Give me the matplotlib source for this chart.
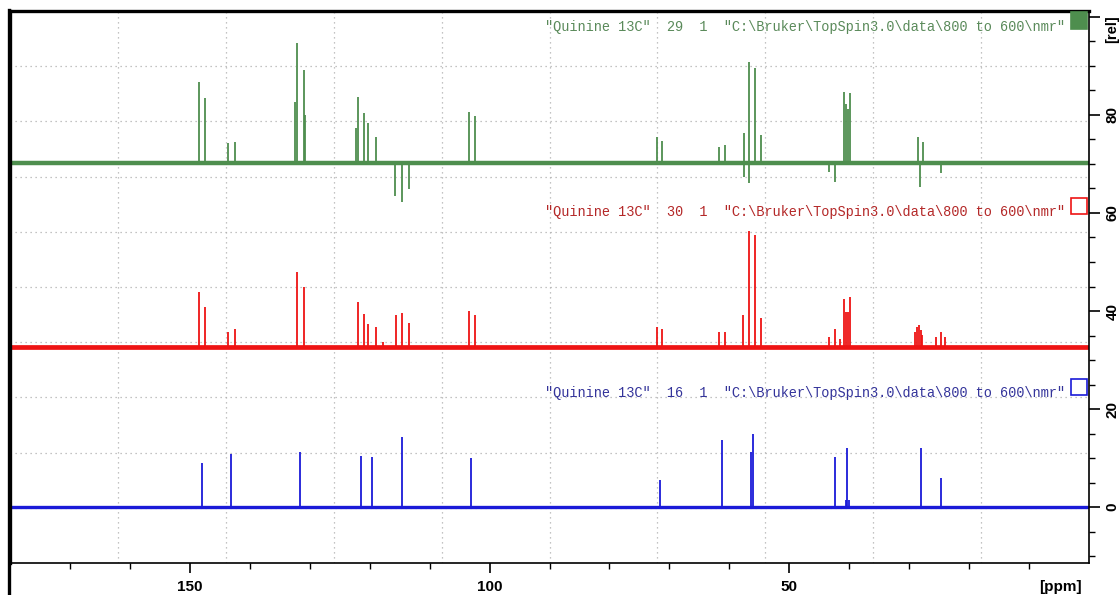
import numpy as np
import matplotlib
matplotlib.use("Agg")
import matplotlib.pyplot as plt
from matplotlib.patches import Rectangle
from matplotlib.lines import Line2D

# ---------------- data ----------------
ppm_limits = [180, 0]
rel_limits = [-11.4, 101.2]
x_major = [150, 100, 50]
x_major_labels = ["150", "100", "50"]
x_minor = list(range(10, 180, 10))
y_major = [0, 20, 40, 60, 80, 100]
y_major_labels = ["0", "20", "40", "60", "80", ""]
y_minor = list(range(-10, 101, 5))

spectrum_labels = [
    '"Quinine 13C"  29  1  "C:\\Bruker\\TopSpin3.0\\data\\800 to 600\\nmr"',
    '"Quinine 13C"  30  1  "C:\\Bruker\\TopSpin3.0\\data\\800 to 600\\nmr"',
    '"Quinine 13C"  16  1  "C:\\Bruker\\TopSpin3.0\\data\\800 to 600\\nmr"',
]
offsets = [70.2, 32.7, 0.0]
label_y = [98.0, 60.2, 23.3]

green_ppm = [148.5, 147.4, 143.6, 142.5, 132.4, 132.2, 131.0, 130.8, 122.3, 122.0,
             121.0, 120.2, 119.0, 115.7, 114.6, 113.5, 103.5, 102.5, 72.1, 71.2,
             61.7, 60.8, 57.5, 57.5, 56.7, 56.7, 55.7, 54.7, 43.3, 42.3,
             40.8, 40.5, 40.2, 39.9, 28.5, 28.2, 27.7, 24.7]
green_h = [16.5, 13.3, 4.1, 4.3, 12.5, 24.5, 19.0, 9.8, 7.1, 13.5,
           10.2, 8.2, 5.3, -6.7, -8.0, -5.3, 10.4, 9.6, 5.3, 4.5,
           3.3, 3.7, 6.1, -2.9, 20.6, -4.1, 19.4, 5.7, -1.8, -3.9,
           14.5, 12.0, 11.0, 14.3, 5.3, -4.9, 4.3, -2.0]

red_ppm = [148.5, 147.4, 143.6, 142.5, 132.2, 131.0, 122.0, 121.0, 120.2, 119.0,
           117.8, 115.6, 114.6, 113.5, 103.5, 102.5, 72.1, 71.2, 61.7, 60.8,
           57.7, 56.7, 55.7, 54.7, 43.3, 42.3, 41.5, 40.8, 40.5, 40.2,
           39.9, 29.0, 28.7, 28.4, 28.1, 27.8, 25.5, 24.7, 24.0]
red_h = [11.2, 8.2, 3.1, 3.7, 15.3, 12.2, 9.2, 6.7, 4.7, 4.1,
         1.0, 6.5, 6.9, 4.9, 7.3, 6.5, 4.1, 3.7, 3.1, 3.1,
         6.5, 23.7, 22.9, 5.9, 2.0, 3.7, 1.5, 9.8, 7.0, 7.0,
         10.2, 3.0, 4.0, 4.5, 3.5, 2.5, 2.0, 3.1, 2.0]

blue_ppm = [147.9, 143.1, 131.7, 121.4, 119.6, 114.6, 103.1, 71.6, 61.2, 56.4,
            56.1, 42.4, 40.6, 40.3, 40.0, 28.1, 24.7]
blue_h = [9.0, 10.8, 11.2, 10.4, 10.2, 14.3, 10.0, 5.5, 13.7, 11.2,
          14.9, 10.2, 1.5, 12.0, 1.5, 12.0, 5.9]

series_ppm = [green_ppm, red_ppm, blue_ppm]
series_h = [green_h, red_h, blue_h]
line_colors = ["#4e8e4e", "#ee1414", "#1a1ad8"]
text_colors = ["#5a8a5a", "#b42828", "#34349a"]
box_filled = [True, False, False]
baseline_lw = [3.2, 3.4, 2.4]

# ---------------- figure ----------------
W, H = 1120, 595
fig = plt.figure(figsize=(W / 100, H / 100), dpi=100)
ax = fig.add_axes([10 / W, 1 - 563 / H, 1079 / W, 552 / H])
ax.set_xlim(*ppm_limits)
ax.set_ylim(*rel_limits)

# grid: 10 equal divisions
grid_x = np.linspace(ppm_limits[0], ppm_limits[1], 11)[1:-1]
grid_y = np.linspace(rel_limits[0], rel_limits[1], 11)[1:-1]
for gx in grid_x:
    ax.axvline(gx, color="#b0b0b0", ls=(0, (1, 3)), lw=0.9, zorder=0)
for gy in grid_y:
    ax.axhline(gy, color="#b0b0b0", ls=(0, (1, 3)), lw=0.9, zorder=0)

# spectra
for ppm, h, off, c, lw in zip(series_ppm, series_h, offsets, line_colors, baseline_lw):
    ax.axhline(off, color=c, lw=lw, zorder=2)
    h = np.asarray(h)
    ax.vlines(ppm, off, off + h, color=c, lw=1.3, zorder=3)

# labels + boxes
for lab, ly, tc, lc, filled in zip(spectrum_labels, label_y, text_colors, line_colors, box_filled):
    ax.text(4.0, ly, lab, ha="right", va="center", color=tc,
            family="Liberation Mono", fontsize=9.8, zorder=4)
    ax.add_patch(Rectangle((3.0, ly - 0.5), -2.7, 3.4, facecolor=lc if filled else "none",
                           edgecolor=lc, lw=1.2, zorder=4))

# axes styling
ax.yaxis.tick_right()
ax.set_xticks(x_major)
ax.set_xticklabels(x_major_labels)
ax.set_xticks(x_minor, minor=True)
ax.set_yticks(y_major)
ax.set_yticklabels(y_major_labels)
ax.set_yticks(y_minor, minor=True)
ax.tick_params(axis="x", which="major", direction="out", length=7.5, width=1.2, pad=5,
               labelsize=11)
ax.tick_params(axis="x", which="minor", direction="out", length=4.5, width=1.0)
ax.tick_params(axis="y", which="major", direction="out", length=8, width=1.2, pad=4,
               labelsize=11, right=True, left=False)
ax.tick_params(axis="y", which="minor", direction="out", length=4.5, width=1.0,
               right=True, left=False)
for t in ax.get_xticklabels():
    t.set_fontweight("bold")
    t.set_family("Liberation Sans")
for t in ax.get_yticklabels():
    t.set_fontweight("bold")
    t.set_family("Liberation Sans")
    t.set_rotation(90)
    t.set_va("center")

for side in ["left", "top"]:
    ax.spines[side].set_linewidth(2.4)
for side in ["right", "bottom"]:
    ax.spines[side].set_linewidth(1.2)

ax.annotate("[rel]", xy=(1.0, 97.5), xycoords=("axes fraction", "data"),
            xytext=(16.5, 0), textcoords="offset points", rotation=90,
            ha="center", va="center", fontweight="bold", family="Liberation Sans",
            fontsize=10.5, annotation_clip=False)
ax.annotate("[ppm]", xy=(4.7, 0), xycoords=("data", "axes fraction"),
            xytext=(0, -17), textcoords="offset points",
            ha="center", va="center", fontweight="bold", family="Liberation Sans",
            fontsize=11, annotation_clip=False)

# window frame line on the left, running down to the bottom
fig.add_artist(Line2D([8.5 / W, 8.5 / W], [0, 1 - 10 / H], color="black", lw=2.4,
                      transform=fig.transFigure))

fig.savefig("out.png", dpi=100, facecolor="white")
